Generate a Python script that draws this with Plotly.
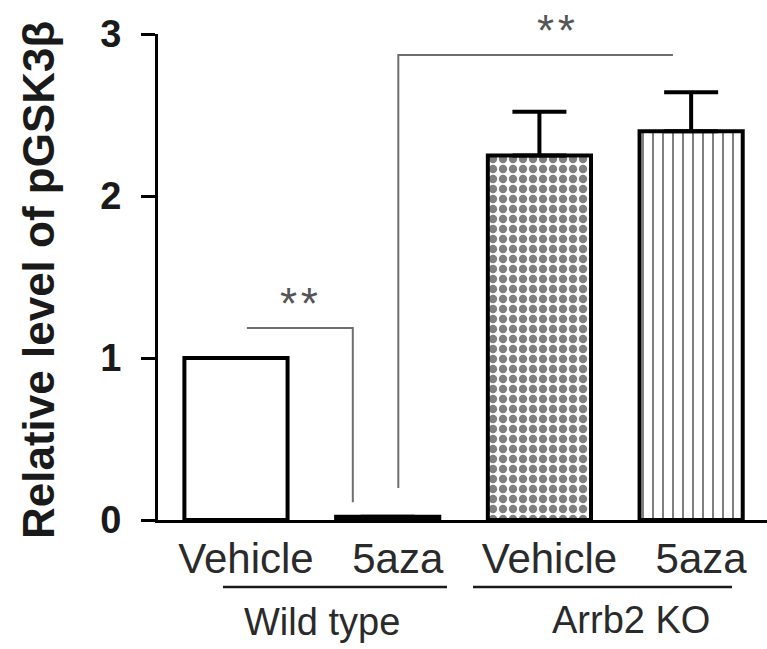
import plotly.graph_objects as go

categories = ["Vehicle", "5aza", "Vehicle ", "5aza "]
tick_labels = ["Vehicle", "5aza", "Vehicle", "5aza"]
values = [1.0, 0.02, 2.25, 2.40]
errors_up = [None, None, 0.27, 0.24]
groups = ["Wild type", "Arrb2 KO"]
y_ticks = [0, 1, 2, 3]

x_idx = list(range(len(categories)))

FONT = "Liberation Sans, Arial, sans-serif"
INK = "#1a1a1a"
GREY = "#6e6e6e"

fig = go.Figure()
fig.add_trace(go.Bar(
    x=x_idx,
    y=values,
    width=0.68,
    marker=dict(
        color="white",
        line=dict(color="black", width=4),
        pattern=dict(
            shape=["", "", ".", "|"],
            size=[8, 8, 10, 10],
            solidity=[0.3, 0.3, 0.55, 0.2],
            fgcolor="black",
            bgcolor="white",
            fillmode="overlay",
        ),
    ),
    error_y=dict(
        type="data",
        symmetric=False,
        array=errors_up,
        arrayminus=[0 if e is not None else None for e in errors_up],
        color="black",
        thickness=4,
        width=27,
    ),
    showlegend=False,
    cliponaxis=False,
    hoverinfo="skip",
))

PL, PW, PT, PH = 158, 609, 34, 486
def px(xp):
    return (xp - PL) / PW
def py(yp):
    return (PT + PH - yp) / PH

# significance brackets (data coordinates)
fig.add_shape(type="path", path="M 0.072 1.185 L 0.77 1.185 L 0.77 0.11",
              xref="x", yref="y", line=dict(color=GREY, width=2))
fig.add_shape(type="path", path="M 1.07 0.198 L 1.07 2.87 L 2.88 2.87",
              xref="x", yref="y", line=dict(color=GREY, width=2))

STARS = "*\u200a*"
fig.add_annotation(x=px(299), y=py(303), xref="paper", yref="paper", text=STARS, showarrow=False,
                   font=dict(family=FONT, size=44, color="#555555"), xanchor="center", yanchor="middle")
fig.add_annotation(x=px(556), y=py(31), xref="paper", yref="paper", text=STARS, showarrow=False,
                   font=dict(family=FONT, size=44, color="#555555"), xanchor="center", yanchor="middle")

# group underlines and labels
fig.add_shape(type="line", xref="paper", yref="paper", x0=px(223), x1=px(447), y0=py(587), y1=py(587),
              line=dict(color=INK, width=2.5))
fig.add_shape(type="line", xref="paper", yref="paper", x0=px(473), x1=px(732), y0=py(587), y1=py(587),
              line=dict(color=INK, width=2.5))
fig.add_annotation(x=px(322), y=py(622), xref="paper", yref="paper", text=groups[0], showarrow=False,
                   font=dict(family=FONT, size=38, color="#2a2a2a"), xanchor="center", yanchor="middle")
fig.add_annotation(x=px(631), y=py(620), xref="paper", yref="paper", text=groups[1], showarrow=False,
                   font=dict(family=FONT, size=38, color="#2a2a2a"), xanchor="center", yanchor="middle")

# y-axis title
fig.add_annotation(x=px(38), y=py(280), xref="paper", yref="paper", text="Relative level of pGSK3β",
                   textangle=-90, showarrow=False,
                   font=dict(family=FONT, size=44, color=INK, weight="bold"),
                   xanchor="center", yanchor="middle")

fig.update_layout(
    width=767, height=649,
    margin=dict(l=PL, r=767 - PL - PW, t=PT, b=649 - PT - PH, pad=0),
    paper_bgcolor="white", plot_bgcolor="white",
    showlegend=False,
    hovermode=False,
    font=dict(family=FONT, color=INK),
    xaxis=dict(
        range=[-0.514, 3.5],
        tickmode="array", tickvals=x_idx, ticktext=tick_labels,
        showline=True, linecolor="black", linewidth=3,
        ticks="", showgrid=False, zeroline=False,
        ticklabelshift=10,
        tickfont=dict(family=FONT, size=42, color="#2a2a2a"),
    ),
    yaxis=dict(
        range=[0, 3],
        tickmode="array", tickvals=y_ticks,
        showline=True, linecolor="black", linewidth=3,
        ticks="outside", ticklen=14, tickwidth=3, tickcolor="black",
        showgrid=False, zeroline=False,
        ticklabelstandoff=12,
        tickfont=dict(family=FONT, size=38, color=INK, weight="bold"),
    ),
)

fig.write_html("out.html", config={"displayModeBar": False},
               post_script="document.body.style.margin='0';")
